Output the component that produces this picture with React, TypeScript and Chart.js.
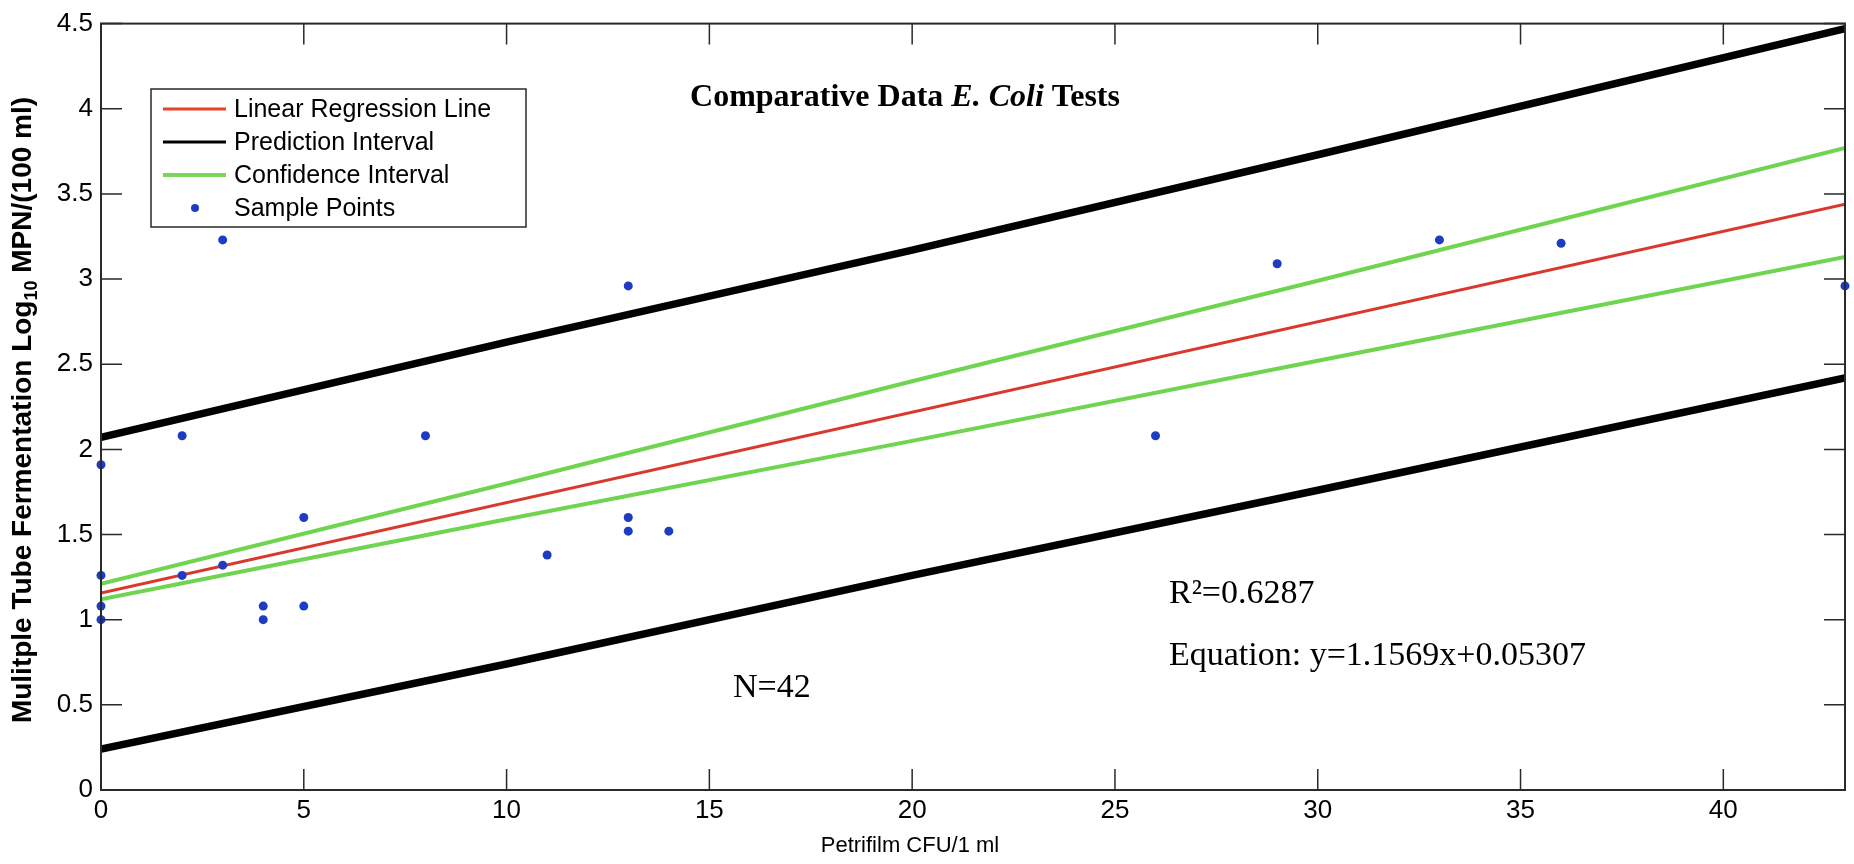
import React, { useEffect, useRef } from "react";
import { Chart, registerables } from "chart.js";

Chart.register(...registerables);

// Sample points: Petrifilm CFU/1 ml vs log10 MPN/(100 ml)
const sampleX = [0, 0, 0, 0, 2, 2, 3, 3, 4, 4, 5, 5, 8, 11, 13, 13, 13, 14, 26, 29, 33, 36, 43];
const sampleY = [1.91, 1.26, 1.08, 1.0, 2.08, 1.26, 3.23, 1.32, 1.08, 1.0, 1.6, 1.08, 2.08, 1.38, 2.96, 1.6, 1.52, 1.52, 2.08, 3.09, 3.23, 3.21, 2.96];

// Fitted line endpoints
const fitX = [0, 43];
const regressionY = [1.1569, 3.439];

// Interval curves
const bandX = [0, 10, 20, 30, 43];
const predictionUpper = [2.07, 2.63, 3.17, 3.73, 4.47];
const predictionLower = [0.24, 0.74, 1.26, 1.76, 2.42];
const confidenceUpper = [1.21, 1.8, 2.4, 2.99, 3.77];
const confidenceLower = [1.12, 1.59, 2.05, 2.52, 3.13];

// Axis ticks
const xTickValues = [0, 5, 10, 15, 20, 25, 30, 35, 40];
const yTickValues = [0, 0.5, 1, 1.5, 2, 2.5, 3, 3.5, 4, 4.5];
const yTickLabels = ["0", "0.5", "1", "1.5", "2", "2.5", "3", "3.5", "4", "4.5"];

const legendItems = ["Linear Regression Line", "Prediction Interval", "Confidence Interval", "Sample Points"];

const RED = "#d9392c";
const GREEN = "#6fd44f";
const BLUE = "#1d3cc2";
const FRAME = "#2a2a2a";
const SANS = "'Liberation Sans', Arial, sans-serif";
const SERIF = "'Liberation Serif', 'Times New Roman', serif";

const pts = (xs: number[], ys: number[]) => xs.map((x, i) => ({ x, y: ys[i] }));

function text(ctx: CanvasRenderingContext2D, s: string, x: number, y: number, font: string, align: CanvasTextAlign = "left") {
  ctx.save();
  ctx.font = font;
  ctx.textAlign = align;
  ctx.textBaseline = "middle";
  ctx.fillStyle = "#000";
  ctx.fillText(s, x, y);
  ctx.restore();
}

const decorPlugin = {
  id: "decor",
  beforeDraw(chart: any) {
    const ctx = chart.ctx;
    ctx.save();
    ctx.fillStyle = "#fff";
    ctx.fillRect(0, 0, chart.width, chart.height);
    ctx.restore();
  },
  afterDatasetsDraw(chart: any) {
    const ctx: CanvasRenderingContext2D = chart.ctx;
    const { left, right, top, bottom } = chart.chartArea;
    const xs = chart.scales.x;
    const ys = chart.scales.y;
    const tick = 21;

    // axes box
    ctx.save();
    ctx.strokeStyle = FRAME;
    ctx.lineWidth = 2;
    ctx.strokeRect(left, top, right - left, bottom - top);

    // inward ticks on all four sides
    ctx.lineWidth = 1.5;
    ctx.beginPath();
    xTickValues.forEach((v) => {
      const px = xs.getPixelForValue(v);
      ctx.moveTo(px, bottom);
      ctx.lineTo(px, bottom - tick);
      ctx.moveTo(px, top);
      ctx.lineTo(px, top + tick);
    });
    yTickValues.forEach((v) => {
      const py = ys.getPixelForValue(v);
      ctx.moveTo(left, py);
      ctx.lineTo(left + tick, py);
      ctx.moveTo(right, py);
      ctx.lineTo(right - tick, py);
    });
    ctx.stroke();
    ctx.restore();

    // legend
    const lx = 151, ly = 89, lw = 375, lh = 138;
    ctx.save();
    ctx.fillStyle = "#fff";
    ctx.fillRect(lx, ly, lw, lh);
    ctx.strokeStyle = FRAME;
    ctx.lineWidth = 1.5;
    ctx.strokeRect(lx, ly, lw, lh);
    const rows = [109, 142, 175, 208];
    const swatch = [
      { c: "#e8412c", w: 3 },
      { c: "#000", w: 3 },
      { c: "#79d65c", w: 4 },
    ];
    swatch.forEach((s, i) => {
      ctx.strokeStyle = s.c;
      ctx.lineWidth = s.w;
      ctx.beginPath();
      ctx.moveTo(163, rows[i]);
      ctx.lineTo(226, rows[i]);
      ctx.stroke();
    });
    ctx.fillStyle = BLUE;
    ctx.beginPath();
    ctx.arc(195, rows[3], 4, 0, Math.PI * 2);
    ctx.fill();
    ctx.restore();
    legendItems.forEach((s, i) => text(ctx, s, 234, rows[i] + 1, `25px ${SANS}`));

    // title with italic species name
    const tParts = [
      { s: "Comparative Data ", f: `bold 32px ${SERIF}` },
      { s: "E. Coli", f: `italic bold 32px ${SERIF}` },
      { s: " Tests", f: `bold 32px ${SERIF}` },
    ];
    ctx.save();
    let total = 0;
    tParts.forEach((p) => {
      ctx.font = p.f;
      total += ctx.measureText(p.s).width;
    });
    let cx = 905 - total / 2;
    tParts.forEach((p) => {
      ctx.font = p.f;
      const w = ctx.measureText(p.s).width;
      text(ctx, p.s, cx, 98, p.f);
      cx += w;
    });
    ctx.restore();

    // statistics annotations
    const serif = `34px ${SERIF}`;
    text(ctx, "R²=0.6287", 1169, 594, serif);
    text(ctx, "Equation: y=1.1569x+0.05307", 1169, 656, serif);
    text(ctx, "N=42", 733, 688, serif);

    // x axis title
    text(ctx, "Petrifilm CFU/1 ml", 910, 846, `22px ${SANS}`, "center");

    // y axis title (rotated, with subscript)
    ctx.save();
    const yParts = [
      { s: "Mulitple Tube Fermentation Log", f: `bold 28px ${SANS}`, dy: 0 },
      { s: "10", f: `bold 18px ${SANS}`, dy: 9 },
      { s: " MPN/(100 ml)", f: `bold 28px ${SANS}`, dy: 0 },
    ];
    let ylen = 0;
    yParts.forEach((p) => {
      ctx.font = p.f;
      ylen += ctx.measureText(p.s).width;
    });
    ctx.translate(23, 410);
    ctx.rotate(-Math.PI / 2);
    let ty = -ylen / 2;
    yParts.forEach((p) => {
      ctx.font = p.f;
      const w = ctx.measureText(p.s).width;
      text(ctx, p.s, ty, p.dy, p.f);
      ty += w;
    });
    ctx.restore();
  },
};

export default function App() {
  const canvasRef = useRef<HTMLCanvasElement | null>(null);

  useEffect(() => {
    const canvas = canvasRef.current;
    if (!canvas) return;
    const lineDs = (label: string, xs: number[], ys: number[], color: string, width: number) => ({
      type: "line" as const,
      label,
      data: pts(xs, ys),
      borderColor: color,
      backgroundColor: color,
      borderWidth: width,
      pointRadius: 0,
      showLine: true,
      fill: false,
      tension: 0,
    });

    const chart = new Chart(canvas, {
      type: "scatter",
      data: {
        datasets: [
          {
            label: "Sample Points",
            data: pts(sampleX, sampleY),
            backgroundColor: BLUE,
            borderColor: BLUE,
            pointRadius: 4.5,
            borderWidth: 0,
            clip: false,
          } as any,
          lineDs("Confidence Interval", bandX, confidenceUpper, GREEN, 4),
          lineDs("Confidence Interval Lower", bandX, confidenceLower, GREEN, 4),
          lineDs("Linear Regression Line", fitX, regressionY, RED, 3),
          lineDs("Prediction Interval", bandX, predictionUpper, "#000", 7.5),
          lineDs("Prediction Interval Lower", bandX, predictionLower, "#000", 7.5),
        ],
      },
      options: {
        responsive: false,
        animation: false,
        events: [],
        layout: { padding: { left: 0, right: 9, top: 21, bottom: 0 } },
        plugins: { legend: { display: false }, tooltip: { enabled: false }, title: { display: false } },
        scales: {
          x: {
            type: "linear",
            min: 0,
            max: 43,
            grid: { display: false, drawTicks: false },
            border: { display: false },
            afterFit: (s: any) => {
              s.height = 74;
            },
            afterBuildTicks: (s: any) => {
              s.ticks = xTickValues.map((v) => ({ value: v }));
            },
            ticks: {
              color: "#000",
              padding: 5,
              maxRotation: 0,
              autoSkip: false,
              font: { family: SANS, size: 26 },
              callback: (v: any) => String(v),
            },
          },
          y: {
            type: "linear",
            min: 0,
            max: 4.5,
            grid: { display: false, drawTicks: false },
            border: { display: false },
            afterFit: (s: any) => {
              s.width = 101;
            },
            afterBuildTicks: (s: any) => {
              s.ticks = yTickValues.map((v) => ({ value: v }));
            },
            ticks: {
              color: "#000",
              padding: 8,
              autoSkip: false,
              font: { family: SANS, size: 26 },
              callback: (v: any) => yTickLabels[yTickValues.indexOf(Number(v))] ?? String(v),
            },
          },
        },
      } as any,
      plugins: [decorPlugin],
    });
    return () => chart.destroy();
  }, []);

  return (
    <div style={{ position: "fixed", left: 0, top: 0, width: 1854, height: 864, background: "#fff" }}>
      <canvas ref={canvasRef} width={1854} height={864} style={{ display: "block", width: 1854, height: 864 }} />
    </div>
  );
}
